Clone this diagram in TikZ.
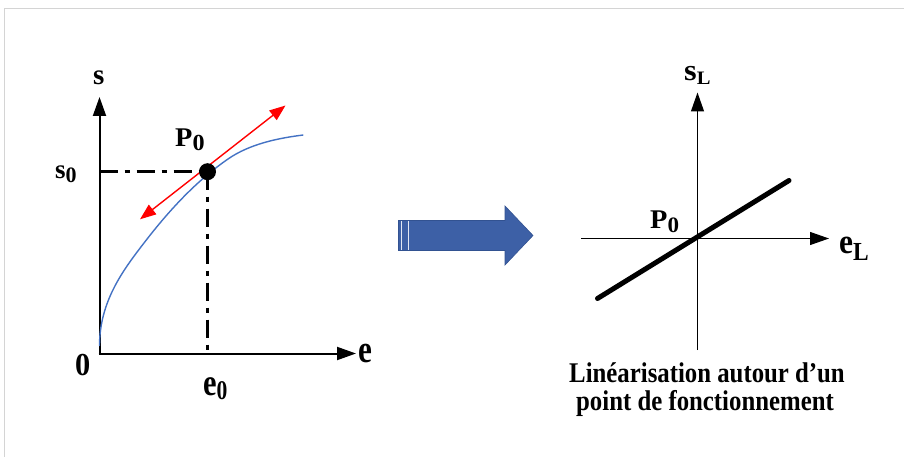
\documentclass[tikz,border=0pt]{standalone}
\usepackage{fontspec}
\setmainfont{Liberation Serif}
\newfontfamily\capfont{Liberation Serif}[FakeStretch=0.87]
\usetikzlibrary{arrows.meta}
\definecolor{curveblue}{RGB}{68,114,196}
\definecolor{arrowblue}{RGB}{61,96,166}
\definecolor{arrowedge}{RGB}{50,82,145}
\definecolor{framegray}{RGB}{212,212,212}
\newcommand\fs[1]{\fontsize{#1}{#1}\selectfont}
% \lsub{size}{drop in pt}{text}
\newcommand\lsub[3]{\raisebox{-#2pt}{\fs{#1}#3}}
\begin{document}
\begin{tikzpicture}[x=1pt,y=-1pt,
  lbl/.style={font=\bfseries, inner sep=0pt, anchor=base west},
  axisthick/.style={line width=2pt,-{Triangle[length=19pt,width=13pt]}},
  axisthin/.style={line width=1.2pt,-{Triangle[length=19pt,width=13pt]}},
  ddot/.style={line width=3pt,dash pattern=on 18pt off 7pt on 5pt off 7pt},
  tangent/.style={red,line width=1.4pt,{Triangle[length=16pt,width=12pt]}-{Triangle[length=16pt,width=12pt]}},
  captext/.style={font=\capfont\bfseries\fs{28.5}, inner sep=0pt, anchor=base},
]
\useasboundingbox (0,0) rectangle (904,457);
\fill[white] (0,0) rectangle (904,457);
\draw[framegray,line width=1.2pt] (4.5,470) -- (4.5,8.5) -- (920,8.5);

% ---------- left plot ----------
\coordinate (O1) at (99.5,353.5);
\coordinate (Ytip1) at (99.5,97);
\coordinate (Xtip1) at (356,353.5);
\coordinate (P) at (207.5,171.7);
\draw[ddot] (O1 |- P) -- (P);
\draw[ddot] (P) -- (P |- O1);
\draw[axisthick] (O1) -- (Ytip1);
\draw[axisthick] ([xshift=-1pt]O1) -- (Xtip1);
\coordinate (C0) at (99.5,346);
\coordinate (C1) at (145,241.7);
\coordinate (C2) at (228.3,158.8);
\coordinate (C3) at (303.3,135);
\draw[curveblue,line width=1.4pt] (C0) .. controls (99.5,301) and (123.6,269.4) .. (C1)
  .. controls (168.8,210.8) and (196.2,180.9) .. (C2)
  .. controls (249.7,144.1) and (277.5,138.2) .. (C3);
\coordinate (Ta) at (140,219.3);
\coordinate (Tb) at (285.5,105.5);
\draw[tangent] (Ta) -- (Tb);
\node[circle,fill=black,minimum size=17pt,inner sep=0pt] (dot) at (P) {};

\node[lbl] (s) at (93,85) {\fs{29}s};
\node[lbl] (s0) at (55,178.3) {\fs{27}s\lsub{22}{4}{0}};
\node[lbl] (P0a) at (175,146.7) {\scalebox{1.05}[1]{\fs{27}P\lsub{23}{4}{0}}};
\node[lbl] (zero) at (75,375) {\scalebox{0.95}[1]{\fs{32}0}};
\node[lbl] (e) at (358,362) {\scalebox{0.8}[1]{\fs{39}e}};
\node[lbl] (e0) at (203,395) {\scalebox{0.8}[1]{\fs{38}e\lsub{27}{4}{0}}};

% ---------- block arrow ----------
\fill[arrowblue,draw=arrowedge,line width=0.6pt] (398.5,220.5) -- (505,220.5) -- (505,206) -- (533,235.5) -- (505,265) -- (505,250.5) -- (398.5,250.5) -- cycle;
\draw[white!85!arrowblue,line width=1pt] (401.5,221) -- (401.5,250);
\draw[white!85!arrowblue,line width=1pt] (408.5,221) -- (408.5,250);

% ---------- right plot ----------
\coordinate (O2) at (697.5,238.5);
\coordinate (Ybot2) at (697.5,350);
\coordinate (Ytip2) at (697.5,92.5);
\coordinate (Xl2) at (581,238.5);
\coordinate (Xtip2) at (829,238.5);
\draw[axisthin] (Ybot2) -- (Ytip2);
\draw[axisthin] (Xl2) -- (Xtip2);
\coordinate (L1) at (597.5,298.5);
\coordinate (L2) at (789,180.5);
\draw[line width=5pt,line cap=round] (L1) -- (L2);

\node[lbl] (sL) at (684,81) {\scalebox{1.08}[1]{\fs{30}s\lsub{19}{4}{L}}};
\node[lbl] (eL) at (839,253) {\scalebox{0.9}[1]{\fs{35}e\lsub{26}{7}{L}}};
\node[lbl] (P0b) at (650,228) {\scalebox{1.05}[1]{\fs{27}P\lsub{22}{4}{0}}};

\node[captext] (cap1) at (707,382.5) {Linéarisation autour d’un};
\node[captext] (cap2) at (705,410) {point de fonctionnement};
\end{tikzpicture}
\end{document}
